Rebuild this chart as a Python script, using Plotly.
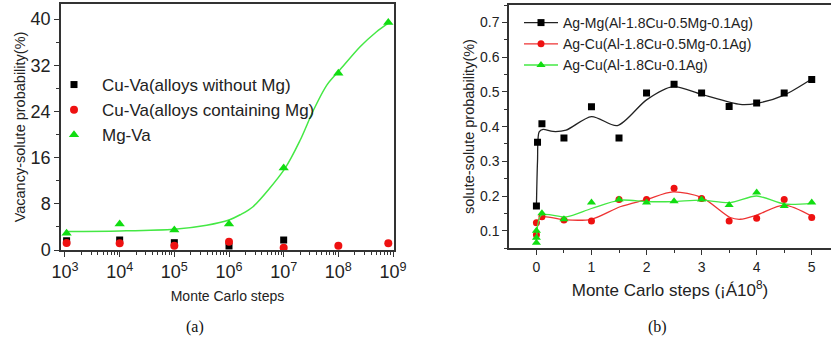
import plotly.graph_objects as go

# ---------------- Panel (a) data ----------------
steps_a = [1.07e3, 1.0e4, 1.0e5, 1.0e6, 1.0e7, 1.0e8, 8.2e8]
cu_va_noMg = [1.6, 1.73, 1.27, 0.7, 1.73]
cu_va_Mg = [1.2, 1.15, 0.75, 1.44, 0.4, 0.75, 1.15]
mg_va = [2.9, 4.5, 3.46, 4.5, 14.2, 30.6, 39.4]

# fitted (sigmoid-like) curve
fit_steps_a = [1.0e3, 1.0e4, 1.0e5, 3.9e5, 1.0e6, 1.6e6, 2.75e6, 1.05e7, 2.0e7,
               3.5e7, 6.2e7, 1.07e8, 2.5e8, 5.0e8, 8.2e8]
fit_mg_va = [3.2, 3.3, 3.6, 4.3, 5.2, 6.1, 7.5, 14.1, 19.0,
             24.2, 28.6, 31.2, 35.2, 37.8, 39.3]

decades = [1e3, 1e4, 1e5, 1e6, 1e7, 1e8, 1e9]
decade_labels = ["10<sup>3</sup>", "10<sup>4</sup>", "10<sup>5</sup>", "10<sup>6</sup>",
                 "10<sup>7</sup>", "10<sup>8</sup>", "10<sup>9</sup>"]

# ---------------- Panel (b) data ----------------
agmg_x = [0, 0.02, 0.1, 0.5, 1, 1.5, 2, 2.5, 3, 3.5, 4, 4.5, 5]
agmg_y = [0.171, 0.355, 0.408, 0.367, 0.457, 0.367, 0.497, 0.522, 0.497, 0.458, 0.468, 0.497, 0.536]

agcu_mg_x = [0, 0, 0.1, 0.5, 1, 1.5, 2, 2.5, 3, 3.5, 4, 4.5, 5]
agcu_mg_y = [0.088, 0.123, 0.14, 0.131, 0.128, 0.19, 0.19, 0.222, 0.193, 0.128, 0.136, 0.19, 0.138]

agcu_x = [0, 0, 0, 0.1, 0.5, 1, 1.5, 2, 2.5, 3, 3.5, 4, 4.5, 5]
agcu_y = [0.065, 0.08, 0.1, 0.15, 0.133, 0.181, 0.19, 0.181, 0.185, 0.19, 0.174, 0.21, 0.171, 0.181]

# smooth fit curves
fit_agmg_x = [0, 0.02, 0.05, 0.12, 0.3, 0.54, 1.0, 1.47, 2.0, 2.48, 3.0, 3.7, 4.0, 4.5, 5.0]
fit_agmg_y = [0.171, 0.30, 0.385, 0.392, 0.386, 0.39, 0.429, 0.403, 0.477, 0.515, 0.493, 0.464, 0.467, 0.491, 0.537]

fit_agcu_mg_x = [0, 0.09, 0.54, 1.0, 1.52, 2.0, 2.48, 3.0, 3.52, 3.7, 4.0, 4.5, 5.0]
fit_agcu_mg_y = [0.12, 0.14, 0.131, 0.133, 0.169, 0.19, 0.212, 0.196, 0.138, 0.133, 0.145, 0.174, 0.142]

fit_agcu_x = [0, 0.09, 0.54, 1.0, 1.52, 2.0, 2.48, 3.0, 3.52, 4.0, 4.5, 5.0]
fit_agcu_y = [0.073, 0.145, 0.14, 0.164, 0.188, 0.184, 0.184, 0.188, 0.181, 0.2, 0.177, 0.179]

legend_b = ["Ag-Mg(Al-1.8Cu-0.5Mg-0.1Ag)", "Ag-Cu(Al-1.8Cu-0.5Mg-0.1Ag)", "Ag-Cu(Al-1.8Cu-0.1Ag)"]

BLACK = "#000000"
RED = "#ee1111"
GREEN = "#11dd11"
GREEN_LINE = "#44e844"
RED_LINE = "#ee3333"
FONT = "Liberation Sans, Arial, sans-serif"
AX = "#333333"

fig = go.Figure()

# ---- panel (a) ----
fig.add_trace(go.Scatter(x=fit_steps_a, y=fit_mg_va, mode="lines", line=dict(color=GREEN_LINE, width=1.5, shape="spline", smoothing=0.8),
                         xaxis="x", yaxis="y", showlegend=False, hoverinfo="skip"))
fig.add_trace(go.Scatter(x=steps_a[:len(cu_va_noMg)], y=cu_va_noMg, mode="markers", name="Cu-Va(alloys without Mg)",
                         marker=dict(symbol="square", size=7, color=BLACK), xaxis="x", yaxis="y", legend="legend"))
fig.add_trace(go.Scatter(x=steps_a, y=cu_va_Mg, mode="markers", name="Cu-Va(alloys containing Mg)",
                         marker=dict(symbol="circle", size=8, color=RED), xaxis="x", yaxis="y", legend="legend"))
fig.add_trace(go.Scatter(x=steps_a, y=mg_va, mode="markers", name="Mg-Va",
                         marker=dict(symbol="triangle-up", size=9, color=GREEN), xaxis="x", yaxis="y", legend="legend"))

# ---- panel (b) ----
series_b = [
    (fit_agmg_x, fit_agmg_y, agmg_x, agmg_y, BLACK, "#222222", "square", 7),
    (fit_agcu_mg_x, fit_agcu_mg_y, agcu_mg_x, agcu_mg_y, RED, RED_LINE, "circle", 7),
    (fit_agcu_x, fit_agcu_y, agcu_x, agcu_y, GREEN, GREEN_LINE, "triangle-up", 8),
]
for name, (fx, fy, px, py, mc, lc, sym, ms) in zip(legend_b, series_b):
    fig.add_trace(go.Scatter(x=fx, y=fy, mode="lines", line=dict(color=lc, width=1.3, shape="spline", smoothing=0.8),
                             xaxis="x2", yaxis="y2", showlegend=False, hoverinfo="skip"))
    fig.add_trace(go.Scatter(x=px, y=py, mode="markers", marker=dict(symbol=sym, size=ms, color=mc),
                             xaxis="x2", yaxis="y2", showlegend=False))
    fig.add_trace(go.Scatter(x=[None], y=[None], mode="lines+markers", name=name,
                             line=dict(color=lc, width=1.3), marker=dict(symbol=sym, size=ms, color=mc),
                             xaxis="x2", yaxis="y2", legend="legend2"))

W, H = 831, 344

def px_x(p):
    return p / W

def px_y(p):
    return 1 - p / H

fig.update_layout(
    width=W, height=H,
    margin=dict(l=0, r=0, t=0, b=0, autoexpand=False),
    paper_bgcolor="white", plot_bgcolor="white",
    font=dict(family=FONT, color="#222222"),
    xaxis=dict(
        type="log", domain=[px_x(61), px_x(394)], range=[2.927, 9.018], anchor="y", automargin=False,
        tickvals=decades, ticktext=decade_labels, tickfont=dict(size=18),
        ticks="outside", ticklen=5, tickcolor=AX, showgrid=False, zeroline=False,
        showline=True, linecolor=AX, linewidth=1.5, mirror=True,
        minor=dict(tickvals=[m * d for d in decades[:-1] for m in range(2, 10)], ticks="outside", ticklen=3, tickcolor=AX),
        title=dict(text="Monte Carlo steps", font=dict(size=14), standoff=10),
    ),
    yaxis=dict(
        domain=[px_y(250), px_y(4)], range=[0, 42.6], anchor="x", automargin=False,
        tickvals=[0, 8, 16, 24, 32, 40], tickfont=dict(size=18),
        ticks="outside", ticklen=5, tickcolor=AX, showgrid=False, zeroline=False,
        showline=True, linecolor=AX, linewidth=1.5, mirror=True,
        minor=dict(dtick=4, ticks="outside", ticklen=3, tickcolor=AX),
        title=dict(text="Vacancy-solute probability(%)", font=dict(size=14.5), standoff=2),
    ),
    xaxis2=dict(
        domain=[px_x(509), 1.0], range=[-0.498, 5.35], anchor="y2", automargin=False,
        tickvals=[0, 1, 2, 3, 4, 5], tickfont=dict(size=14),
        ticks="outside", ticklen=5, tickcolor=AX, showgrid=False, zeroline=False,
        showline=True, linecolor=AX, linewidth=1.5, mirror=True,
        minor=dict(dtick=0.5, ticks="outside", ticklen=3, tickcolor=AX),
        title=dict(text="Monte Carlo steps (¡Á10<sup>8</sup>)", font=dict(size=17), standoff=10),
    ),
    yaxis2=dict(
        domain=[px_y(248.3), px_y(4.7)], range=[0.0493, 0.7513], anchor="x2", automargin=False,
        tickvals=[0.1, 0.2, 0.3, 0.4, 0.5, 0.6, 0.7], tickfont=dict(size=14),
        ticks="outside", ticklen=5, tickcolor=AX, showgrid=False, zeroline=False,
        showline=True, linecolor=AX, linewidth=1.5,
        minor=dict(dtick=0.05, ticks="outside", ticklen=3, tickcolor=AX),
        title=dict(text="solute-solute probability(%)", font=dict(size=14.5), standoff=2),
    ),
    legend=dict(x=px_x(46), y=px_y(67), xanchor="left", yanchor="top", bgcolor="rgba(0,0,0,0)",
                font=dict(size=17), itemwidth=46, tracegroupgap=0),
    legend2=dict(x=px_x(519), y=px_y(7), xanchor="left", yanchor="top", bgcolor="rgba(0,0,0,0)",
                 font=dict(size=14), itemwidth=34, tracegroupgap=0),
    annotations=[
        dict(text="(a)", x=px_x(195), y=px_y(327), xref="paper", yref="paper", showarrow=False,
             xanchor="center", yanchor="middle",
             font=dict(family="Liberation Serif, Times New Roman, serif", size=16, color="#111111")),
        dict(text="(b)", x=px_x(657), y=px_y(327), xref="paper", yref="paper", showarrow=False,
             xanchor="center", yanchor="middle",
             font=dict(family="Liberation Serif, Times New Roman, serif", size=16, color="#111111")),
    ],
)

fig.write_html("out.html")
